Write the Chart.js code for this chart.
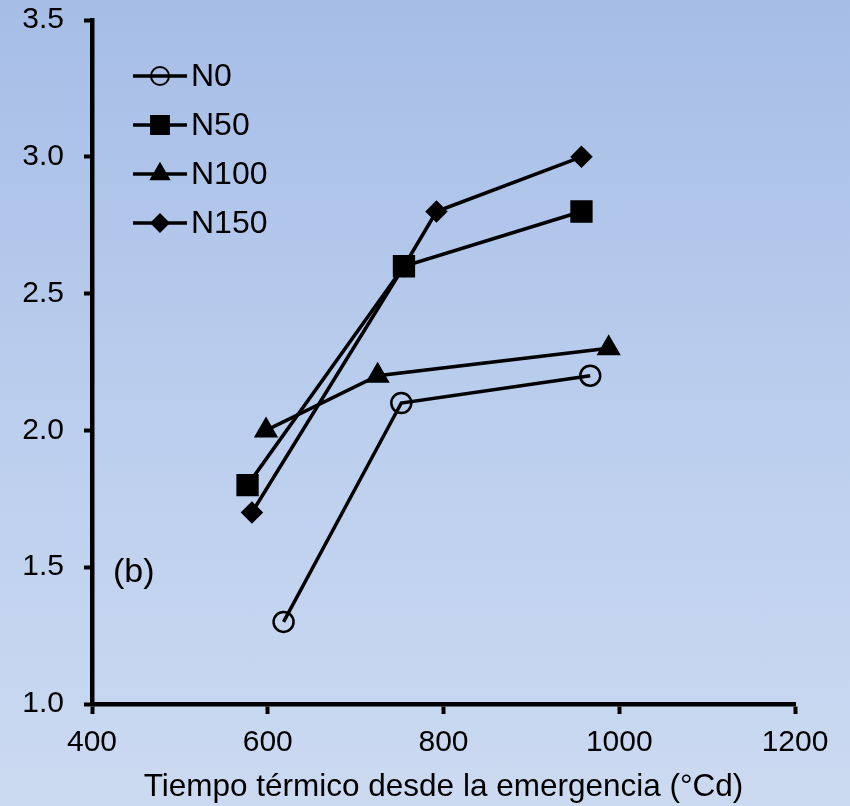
<!DOCTYPE html>
<html>
<head>
<meta charset="utf-8">
<script src="https://cdn.jsdelivr.net/npm/chart.js@4/dist/chart.umd.min.js"></script>
<style>
  html, body { margin: 0; padding: 0; }
  body {
    width: 850px; height: 806px;
    background: linear-gradient(to bottom, #a6bde6 0%, #bccfee 55%, #ccdaf1 100%);
  }
  #wrap { width: 850px; height: 806px; position: relative; }
  canvas { display: block; }
</style>
</head>
<body>
<div id="wrap"><canvas id="chart" width="850" height="806"></canvas></div>
<script>
// --- DATA ---
const seriesNames = ['N0', 'N50', 'N100', 'N150']
const n0X = [618, 752, 967]
const n0Y = [1.3, 2.1, 2.2]
const n50X = [577, 755, 957]
const n50Y = [1.8, 2.6, 2.8]
const n100X = [598, 725, 988]
const n100Y = [2.0, 2.2, 2.3]
const n150X = [582, 755, 792, 957]
const n150Y = [1.7, 2.6, 2.8, 3.0]
const xTicks = [400, 600, 800, 1000, 1200]
const yTicks = [1.0, 1.5, 2.0, 2.5, 3.0, 3.5]
const xTitle = 'Tiempo térmico desde la emergencia (°Cd)'
const panelLabel = '(b)'

const FONT = "'Liberation Sans', Arial, sans-serif"

const markers = [
    { style: 'circle', radius: 10, fill: 'rgba(0,0,0,0)' },
    { style: 'rect', radius: 14, fill: '#000' },
    { style: 'triangle', radius: 11.5, fill: '#000' },
    { style: 'rectRot', radius: 9.5, fill: '#000' }
]

function toPoints(xs, ys){
    return xs.map((x, i) => ({ x: x, y: ys[i] }))
}

const seriesData = [
    toPoints(n0X, n0Y),
    toPoints(n50X, n50Y),
    toPoints(n100X, n100Y),
    toPoints(n150X, n150Y)
]

// --- PLUGINS ---

// legend: line with marker in the middle, drawn on the canvas
const lineLegend = {
    id: 'lineLegend',
    afterDraw(chart){
        const ctx = chart.ctx
        const rows = [76, 125, 174, 223]
        ctx.save()
        seriesNames.forEach((name, i) => {
            const y = rows[i]
            ctx.strokeStyle = '#000'
            ctx.lineWidth = 3.5
            ctx.beginPath()
            ctx.moveTo(133, y)
            ctx.lineTo(187, y)
            ctx.stroke()
            const m = markers[i]
            ctx.fillStyle = m.fill
            ctx.lineWidth = 2
            Chart.helpers.drawPoint(ctx, { pointStyle: m.style, radius: m.radius * 0.9, borderWidth: 2 }, 160, y)
            ctx.fillStyle = '#000'
            ctx.font = '32px ' + FONT
            ctx.textAlign = 'left'
            ctx.textBaseline = 'middle'
            ctx.fillText(name, 191, y + 1)
        })
        ctx.font = '34px ' + FONT
        ctx.textAlign = 'left'
        ctx.textBaseline = 'middle'
        ctx.fillText(panelLabel, 113, 573)
        ctx.restore()
    }
}

// --- CHART ---

const ctx = document.getElementById('chart').getContext('2d')

new Chart(ctx, {
    type: 'scatter',
    data: {
        datasets: seriesNames.map((name, i) => ({
            label: name,
            data: seriesData[i],
            showLine: true,
            borderColor: '#000',
            borderWidth: 3.5,
            pointStyle: markers[i].style,
            pointRadius: markers[i].radius,
            pointHoverRadius: markers[i].radius,
            pointBackgroundColor: markers[i].fill,
            pointBorderColor: '#000',
            pointBorderWidth: 2.5,
            clip: false
        }))
    },
    options: {
        responsive: false,
        animation: false,
        devicePixelRatio: 1,
        layout: { padding: { left: 0, top: 20, right: 55, bottom: 0 } },
        plugins: {
            legend: { display: false },
            tooltip: { enabled: false }
        },
        scales: {
            x: {
                type: 'linear',
                min: 400,
                max: 1200,
                afterBuildTicks: s => { s.ticks = xTicks.map(v => ({ value: v })) },
                afterFit: s => { s.height = 102; s.paddingLeft = 0; s.paddingRight = 0 },
                border: { color: '#000', width: 4.5 },
                grid: { drawOnChartArea: false, tickLength: 10, tickWidth: 4, tickColor: '#000' },
                ticks: {
                    color: '#000',
                    font: { family: FONT, size: 30 },
                    padding: 11,
                    maxRotation: 0,
                    callback: v => String(v)
                },
                title: {
                    display: true,
                    text: xTitle,
                    color: '#000',
                    font: { family: FONT, size: 31.5 },
                    padding: { top: 0, bottom: 0 }
                }
            },
            y: {
                type: 'linear',
                min: 1.0,
                max: 3.5,
                afterBuildTicks: s => { s.ticks = yTicks.map(v => ({ value: v })) },
                afterFit: s => { s.width = 92; s.paddingTop = 0; s.paddingBottom = 0 },
                border: { color: '#000', width: 4.5 },
                grid: { drawOnChartArea: false, tickLength: 8, tickWidth: 4, tickColor: '#000' },
                ticks: {
                    color: '#000',
                    font: { family: FONT, size: 30 },
                    padding: 20,
                    callback: v => v.toFixed(1)
                }
            }
        }
    },
    plugins: [lineLegend]
})
</script>
</body>
</html>
